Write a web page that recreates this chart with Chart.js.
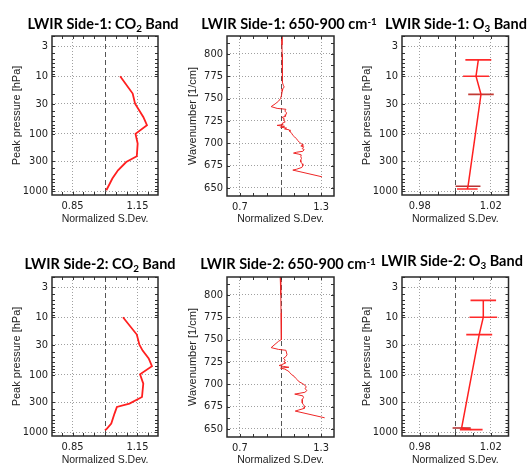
<!DOCTYPE html>
<html>
<head>
<meta charset="utf-8">
<script src="https://cdn.jsdelivr.net/npm/chart.js@4.4.0/dist/chart.umd.min.js"></script>
<style>
html,body{margin:0;padding:0;background:#fff;width:529px;height:464px;overflow:hidden;}
body{position:relative;}
canvas{position:absolute;}
.ttl{position:absolute;font-family:Lato,"Open Sans",sans-serif;font-weight:700;font-size:14.5px;white-space:nowrap;transform:translate(-50%,-50%);color:#000;line-height:1;z-index:5;}
.sb{font-size:0.68em;position:relative;top:0.3em;}
.sp{font-size:0.68em;position:relative;top:-0.45em;}
</style>
</head>
<body>
<div class="ttl" style="left:103px;top:24px">LWIR Side-1: CO<span class="sb">2</span> Band</div>
<div class="ttl" style="left:289px;top:24px">LWIR Side-1: 650-900 cm<span class="sp">-1</span></div>
<div class="ttl" style="left:456px;top:24px">LWIR Side-1: O<span class="sb">3</span> Band</div>
<div class="ttl" style="left:100px;top:264px">LWIR Side-2: CO<span class="sb">2</span> Band</div>
<div class="ttl" style="left:288px;top:264px">LWIR Side-2: 650-900 cm<span class="sp">-1</span></div>
<div class="ttl" style="left:452px;top:261px">LWIR Side-2: O<span class="sb">3</span> Band</div>

<canvas id="c0" width="172" height="232" style="left:0px;top:0px"></canvas>
<canvas id="c1" width="172" height="232" style="left:175px;top:0px"></canvas>
<canvas id="c2" width="179" height="232" style="left:350px;top:0px"></canvas>
<canvas id="c3" width="172" height="232" style="left:0px;top:241px"></canvas>
<canvas id="c4" width="172" height="232" style="left:175px;top:241px"></canvas>
<canvas id="c5" width="179" height="232" style="left:350px;top:241px"></canvas>

<script>
// ---------------- DATA ----------------
const refValue = 1.0;

const pressureTicks = [3, 10, 30, 100, 300, 1000];
const pressureTickLabels = ['3', '10', '30', '100', '300', '1000'];
const pressureMinor = [2,3,4,5,6,7,8,9,10,20,30,40,50,60,70,80,90,100,200,300,400,500,600,700,800,900,1000];

const wavenumberTicks = [650, 675, 700, 725, 750, 775, 800];
const wavenumberTickLabels = ['650', '675', '700', '725', '750', '775', '800'];
const wavenumberMinor = [650,662.5,675,687.5,700,712.5,725,737.5,750,762.5,775,787.5,800,812.5];

const co2XTicks = [0.85, 1.15];
const co2XTickLabels = ['0.85', '1.15'];
const co2XMinor = [0.80,0.85,0.90,0.95,1.00,1.05,1.10,1.15,1.20];

const specXTicks = [0.7, 1.3];
const specXTickLabels = ['0.7', '1.3'];
const specXMinor = [0.7,0.8,0.9,1.0,1.1,1.2,1.3];

const o3XTicks = [0.98, 1.02];
const o3XTickLabels = ['0.98', '1.02'];
const o3XMinor = [0.98,0.99,1.00,1.01,1.02];

// CO2 band, side 1 and side 2
const co2S1Pressure = [10, 20, 30, 51, 71, 100, 148, 246, 310, 432, 601, 841, 960];
const co2S1SDev     = [1.070, 1.128, 1.139, 1.177, 1.194, 1.141, 1.151, 1.147, 1.098, 1.060, 1.034, 1.014, 1.006];
const co2S2Pressure = [10, 20, 30, 38, 52, 71, 98, 143, 244, 317, 363, 473, 706, 861, 923];
const co2S2SDev     = [1.083, 1.147, 1.159, 1.174, 1.202, 1.217, 1.162, 1.177, 1.171, 1.113, 1.055, 1.044, 1.029, 1.009, 1.000];

// 650-900 cm-1 spectra
const spec1Wavenumber = [820,810,800,790,780,772,768,765,763,761,758,754,750,747,744,741,739,738,736,734,732,730,729,727,726,724,722,721,720,719,718,717,716,715,713,711,709,707,705,703,701,699,698,697,696,694,693,691,690,689,688,687,685,683,681,679,677,675,673,671,670,662.5];
const spec1SDev = [1.010,1.011,1.012,1.013,1.014,1.016,1.015,1.020,1.027,1.018,1.012,1.008,1.000,0.985,0.960,0.931,0.975,1.040,1.032,1.045,1.040,1.035,1.012,1.030,1.020,1.035,1.010,1.020,0.975,1.030,1.000,1.045,1.030,1.064,1.070,1.084,1.090,1.105,1.118,1.128,1.140,1.158,1.170,1.150,1.172,1.160,1.175,1.165,1.120,1.096,1.130,1.153,1.150,1.155,1.148,1.150,1.160,1.165,1.158,1.120,1.091,1.306];
const spec2Wavenumber = [820,800,780,770,765,760,755,750,748,741,739,738,735,733,731,729,727,725,724,722,721,720,719,718,717,715,713,711,709,707,705,703,701,699,697,695,693,691,689,687,685,683,681,679,677,675,673,671,670,662.5];
const spec2SDev = [0.998,1.002,1.004,1.005,1.006,1.010,1.006,1.005,0.985,0.931,0.985,1.040,1.045,1.048,1.040,1.022,1.035,1.025,1.040,1.010,0.990,1.020,1.062,1.000,1.030,1.055,1.070,1.080,1.100,1.110,1.125,1.135,1.160,1.180,1.190,1.182,1.195,1.180,1.105,1.165,1.170,1.160,1.162,1.160,1.170,1.180,1.175,1.130,1.109,1.326];

// O3 band, side 1 and side 2 (value and horizontal error half-width)
const o3S1Pressure = [5.2, 10, 20.7, 818, 912];
const o3S1SDev     = [1.0130, 1.0117, 1.0145, 1.0072, 1.0068];
const o3S1Err      = [0.0073, 0.0073, 0.0072, 0.0070, 0.0058];
const o3S1BarColors = ['#ff2a2a', '#ff2a2a', '#c23a34', '#b83232', '#ff2a2a'];
const o3S2Pressure = [5.1, 10, 20.1, 841, 898];
const o3S2SDev     = [1.0158, 1.0158, 1.0135, 1.0036, 1.0090];
const o3S2Err      = [0.0072, 0.0078, 0.0073, 0.0051, 0.0064];
const o3S2BarColors = ['#ff2a2a', '#ff2a2a', '#ff2a2a', '#b02a2a', '#ff2a2a'];

// ---------------- HELPERS ----------------
Chart.defaults.font.family = '"Liberation Sans", Arial, sans-serif';
Chart.defaults.color = '#222';

const tickFont = { family: '"Liberation Sans Narrow", "DejaVu Sans Condensed", "Liberation Sans", sans-serif', size: 11 };

function pts(xs, ys) { return xs.map((x, i) => ({ x: x, y: ys[i] })); }

const framePlugin = {
  id: 'frame',
  beforeDatasetsDraw(chart, args, o) {
    const { ctx, chartArea: a, scales: { x } } = chart;
    const px = x.getPixelForValue(o.ref);
    ctx.save();
    ctx.strokeStyle = '#555';
    ctx.lineWidth = 1;
    ctx.setLineDash([5, 3]);
    ctx.beginPath();
    ctx.moveTo(Math.round(px) + 0.5, a.top);
    ctx.lineTo(Math.round(px) + 0.5, a.bottom);
    ctx.stroke();
    ctx.restore();
  },
  afterDraw(chart, args, o) {
    const { ctx, chartArea: a, scales: { x, y } } = chart;
    ctx.save();
    ctx.strokeStyle = '#333';
    ctx.lineWidth = 1;
    const L = 3;
    ctx.beginPath();
    o.xMinor.forEach(v => {
      const p = Math.round(x.getPixelForValue(v)) + 0.5;
      ctx.moveTo(p, a.top); ctx.lineTo(p, a.top + L);
      ctx.moveTo(p, a.bottom); ctx.lineTo(p, a.bottom - L);
    });
    o.yMinor.forEach(v => {
      const p = Math.round(y.getPixelForValue(v)) + 0.5;
      if (p < a.top || p > a.bottom) return;
      ctx.moveTo(a.left, p); ctx.lineTo(a.left + L, p);
      ctx.moveTo(a.right, p); ctx.lineTo(a.right - L, p);
    });
    ctx.stroke();
    ctx.strokeStyle = '#2a2a2a';
    ctx.lineWidth = 1.5;
    ctx.strokeRect(a.left, a.top, a.right - a.left, a.bottom - a.top);
    ctx.restore();
  }
};

function panel(id, c) {
  return new Chart(document.getElementById(id), {
    type: 'scatter',
    data: { datasets: c.datasets },
    options: {
      responsive: false,
      animation: false,
      events: [],
      layout: { padding: { top: 36, right: c.padRight, left: 0, bottom: 0 } },
      plugins: {
        legend: { display: false },
        tooltip: { enabled: false },
        frame: { ref: refValue, xMinor: c.xMinor, yMinor: c.yMinor }
      },
      scales: {
        x: {
          type: 'linear',
          min: c.xMin, max: c.xMax,
          afterBuildTicks: s => { s.ticks = c.xTicks.map(v => ({ value: v })); },
          afterFit: s => { s.height = c.xAxisH; },
          ticks: { font: tickFont, color: '#222', padding: 5, maxRotation: 0, autoSkip: false,
                   callback: (v, i) => c.xLabels[i] },
          grid: { color: '#a0a0a0', lineWidth: 1, drawTicks: false },
          border: { display: false, dash: [1, 2] },
          title: { display: true, text: 'Normalized S.Dev.', color: '#222',
                   font: { size: 10.5 }, padding: { top: 0, bottom: 7 } }
        },
        y: {
          type: c.yType,
          reverse: c.yReverse,
          min: c.yMin, max: c.yMax,
          afterBuildTicks: s => { s.ticks = c.yTicks.map(v => ({ value: v })); },
          afterFit: s => { s.width = 52; },
          ticks: { font: tickFont, color: '#222', padding: 4, autoSkip: false,
                   callback: (v, i) => c.yLabels[i] },
          grid: { color: '#a0a0a0', lineWidth: 1, drawTicks: false },
          border: { display: false, dash: [1, 2] },
          title: { display: true, text: c.yTitle, color: '#222',
                   font: { size: 11 }, padding: { top: c.yTitlePad, bottom: 0 } }
        }
      }
    },
    plugins: [framePlugin]
  });
}

function co2Panel(id, pres, sdev) {
  panel(id, {
    padRight: 14, xAxisH: 37,
    xMin: 0.755, xMax: 1.245, xTicks: co2XTicks, xLabels: co2XTickLabels, xMinor: co2XMinor,
    yType: 'logarithmic', yReverse: true, yMin: 2, yMax: 1160,
    yTicks: pressureTicks, yLabels: pressureTickLabels, yMinor: pressureMinor,
    yTitle: 'Peak pressure [hPa]', yTitlePad: 10,
    datasets: [{
      data: pts(sdev, pres), showLine: true, borderColor: '#ff1f1f', borderWidth: 1.8,
      pointRadius: 0, tension: 0
    }]
  });
}

function specPanel(id, wn, sdev) {
  panel(id, {
    padRight: 13, xAxisH: 36,
    xMin: 0.605, xMax: 1.395, xTicks: specXTicks, xLabels: specXTickLabels, xMinor: specXMinor,
    yType: 'linear', yReverse: false, yMin: 641, yMax: 820,
    yTicks: wavenumberTicks, yLabels: wavenumberTickLabels, yMinor: wavenumberMinor,
    yTitle: 'Wavenumber [1/cm]', yTitlePad: 11,
    datasets: [{
      data: pts(sdev, wn), showLine: true, borderColor: '#ee2626', borderWidth: 1,
      pointRadius: 0, tension: 0
    }]
  });
}

function o3Panel(id, pres, sdev, err, barColors) {
  const ds = [{
    data: pts(sdev, pres), showLine: true, borderColor: '#ff2020', borderWidth: 1.5,
    pointRadius: 0, tension: 0
  }];
  pres.forEach((p, i) => {
    ds.push({
      data: [{ x: sdev[i] - err[i], y: p }, { x: sdev[i] + err[i], y: p }],
      showLine: true, borderColor: barColors[i], borderWidth: 1.6, pointRadius: 0
    });
  });
  panel(id, {
    padRight: 20.5, xAxisH: 37,
    xMin: 0.97, xMax: 1.03, xTicks: o3XTicks, xLabels: o3XTickLabels, xMinor: o3XMinor,
    yType: 'logarithmic', yReverse: true, yMin: 2, yMax: 1160,
    yTicks: pressureTicks, yLabels: pressureTickLabels, yMinor: pressureMinor,
    yTitle: 'Peak pressure [hPa]', yTitlePad: 10,
    datasets: ds
  });
}

co2Panel('c0', co2S1Pressure, co2S1SDev);
specPanel('c1', spec1Wavenumber, spec1SDev);
o3Panel('c2', o3S1Pressure, o3S1SDev, o3S1Err, o3S1BarColors);
co2Panel('c3', co2S2Pressure, co2S2SDev);
specPanel('c4', spec2Wavenumber, spec2SDev);
o3Panel('c5', o3S2Pressure, o3S2SDev, o3S2Err, o3S2BarColors);
</script>
</body>
</html>
